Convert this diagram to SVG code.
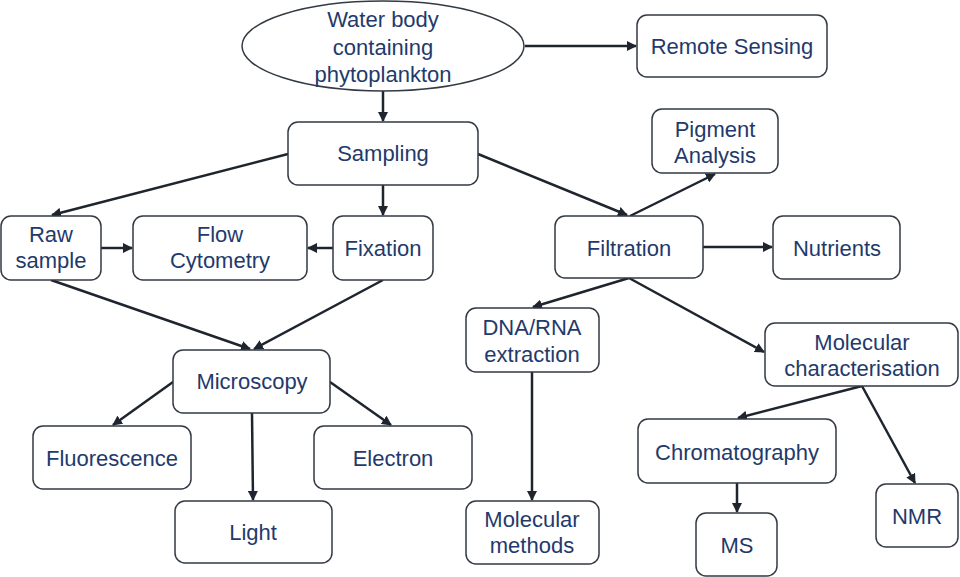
<svg xmlns="http://www.w3.org/2000/svg" width="960" height="577" viewBox="0 0 960 577">
<defs>
<style>
.box{fill:#fff;stroke:#333a44;stroke-width:1.5}
.t{font-family:"Liberation Sans",Arial,sans-serif;font-size:22px;fill:#1f3a6b;text-anchor:middle}
.c{stroke:#1e252e;stroke-width:2.5;fill:none;marker-end:url(#ah)}
</style>
<marker id="ah" viewBox="0 0 10 10" refX="9" refY="5" markerWidth="4" markerHeight="4" orient="auto" markerUnits="strokeWidth">
<path d="M0,0 L10,5 L0,10 z" fill="#1e252e"/>
</marker>
</defs>
<rect width="960" height="577" fill="#fff"/>
<g id="connectors">
<line class="c" x1="525" y1="46" x2="636" y2="46"/>
<line class="c" x1="383" y1="91" x2="383" y2="121"/>
<line class="c" x1="288" y1="154" x2="52" y2="215"/>
<line class="c" x1="383" y1="185" x2="383" y2="215"/>
<line class="c" x1="478" y1="154" x2="627" y2="215"/>
<line class="c" x1="101" y1="248" x2="132" y2="248"/>
<line class="c" x1="333" y1="248" x2="308" y2="248"/>
<line class="c" x1="51" y1="280" x2="250" y2="349"/>
<line class="c" x1="383" y1="280" x2="254" y2="349"/>
<line class="c" x1="173" y1="382" x2="113" y2="425"/>
<line class="c" x1="330" y1="382" x2="391" y2="425"/>
<line class="c" x1="252" y1="413" x2="253" y2="500"/>
<line class="c" x1="630" y1="216" x2="715" y2="174"/>
<line class="c" x1="703" y1="247" x2="772" y2="247"/>
<line class="c" x1="629" y1="278" x2="533" y2="307"/>
<line class="c" x1="629" y1="278" x2="764" y2="352"/>
<line class="c" x1="532" y1="372" x2="532" y2="500"/>
<line class="c" x1="862" y1="386" x2="738" y2="418"/>
<line class="c" x1="862" y1="386" x2="915" y2="483"/>
<line class="c" x1="737" y1="483" x2="737" y2="512"/>
</g>
<g id="water">
<ellipse class="box" cx="383" cy="46" rx="141" ry="45"/>
<text class="t" x="383" y="27">Water body</text>
<text class="t" x="383" y="55">containing</text>
<text class="t" x="383" y="82">phytoplankton</text>
</g>
<g id="remote"><rect class="box" x="637" y="15" width="190" height="62" rx="10"/><text class="t" x="732" y="54">Remote Sensing</text></g>
<g id="sampling"><rect class="box" x="288" y="122" width="190" height="63" rx="10"/><text class="t" x="383" y="161">Sampling</text></g>
<g id="raw"><rect class="box" x="1" y="216" width="100" height="64" rx="10"/><text class="t" x="51" y="242">Raw</text><text class="t" x="51" y="268">sample</text></g>
<g id="flow"><rect class="box" x="133" y="216" width="174" height="64" rx="10"/><text class="t" x="220" y="242">Flow</text><text class="t" x="220" y="268">Cytometry</text></g>
<g id="fixation"><rect class="box" x="333" y="216" width="100" height="64" rx="10"/><text class="t" x="383" y="256">Fixation</text></g>
<g id="microscopy"><rect class="box" x="173" y="350" width="157" height="63" rx="10"/><text class="t" x="252" y="389">Microscopy</text></g>
<g id="fluorescence"><rect class="box" x="33" y="426" width="158" height="63" rx="10"/><text class="t" x="112" y="466">Fluorescence</text></g>
<g id="electron"><rect class="box" x="314" y="426" width="158" height="63" rx="10"/><text class="t" x="393" y="466">Electron</text></g>
<g id="light"><rect class="box" x="175" y="501" width="157" height="62" rx="10"/><text class="t" x="253" y="540">Light</text></g>
<g id="pigment"><rect class="box" x="652" y="109" width="126" height="64" rx="10"/><text class="t" x="715" y="137">Pigment</text><text class="t" x="715" y="163">Analysis</text></g>
<g id="filtration"><rect class="box" x="555" y="216" width="148" height="62" rx="10"/><text class="t" x="629" y="256">Filtration</text></g>
<g id="nutrients"><rect class="box" x="773" y="216" width="127" height="63" rx="10"/><text class="t" x="837" y="256">Nutrients</text></g>
<g id="dna"><rect class="box" x="466" y="308" width="133" height="64" rx="10"/><text class="t" x="532" y="335">DNA/RNA</text><text class="t" x="532" y="362">extraction</text></g>
<g id="molchar"><rect class="box" x="765" y="323" width="193" height="63" rx="10"/><text class="t" x="862" y="350">Molecular</text><text class="t" x="862" y="376">characterisation</text></g>
<g id="molmeth"><rect class="box" x="466" y="501" width="133" height="63" rx="10"/><text class="t" x="532" y="527">Molecular</text><text class="t" x="532" y="553">methods</text></g>
<g id="chrom"><rect class="box" x="638" y="419" width="198" height="64" rx="10"/><text class="t" x="737" y="460">Chromatography</text></g>
<g id="ms"><rect class="box" x="696" y="513" width="81" height="63" rx="10"/><text class="t" x="737" y="553">MS</text></g>
<g id="nmr"><rect class="box" x="876" y="484" width="82" height="63" rx="10"/><text class="t" x="917" y="524">NMR</text></g>
</svg>
